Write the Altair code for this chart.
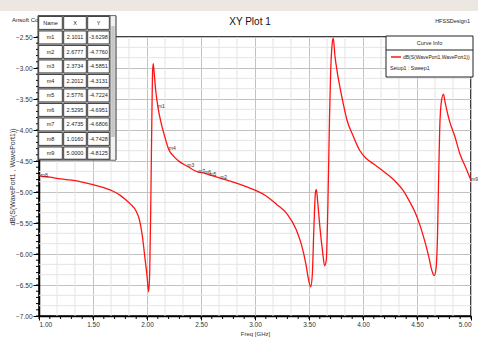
import altair as alt
import pandas as pd
import numpy as np

# ---------------- data ----------------
freq = [1.00, 1.016, 1.10, 1.20, 1.30, 1.40, 1.50, 1.60, 1.70, 1.75, 1.80, 1.85, 1.90, 1.93,
        1.96, 1.98, 2.00, 2.015, 2.025, 2.035, 2.045, 2.052, 2.058, 2.065, 2.08, 2.1011, 2.13,
        2.16, 2.2012, 2.25, 2.30, 2.3734, 2.4735, 2.5295, 2.5776, 2.6777, 2.80, 2.90, 3.00,
        3.10, 3.20, 3.30, 3.38, 3.43, 3.47, 3.50, 3.515, 3.53, 3.545, 3.56, 3.568, 3.58, 3.60,
        3.625, 3.645, 3.66, 3.675, 3.69, 3.70, 3.715, 3.725, 3.74, 3.76, 3.79, 3.82, 3.85,
        3.91, 3.97, 4.03, 4.10, 4.20, 4.30, 4.37, 4.43, 4.48, 4.53, 4.57, 4.61, 4.64, 4.66,
        4.675, 4.69, 4.70, 4.71, 4.725, 4.745, 4.76, 4.80, 4.85, 4.90, 4.95, 5.00]
db = [-4.72, -4.7428, -4.76, -4.79, -4.81, -4.84, -4.88, -4.93, -5.00, -5.05, -5.12, -5.20,
      -5.31, -5.45, -5.75, -6.05, -6.35, -6.61, -6.30, -5.20, -3.80, -3.05, -2.93, -3.05,
      -3.35, -3.6298, -3.88, -4.08, -4.3131, -4.43, -4.51, -4.5851, -4.6806, -4.6951, -4.7224,
      -4.7760, -4.84, -4.90, -4.97, -5.06, -5.20, -5.36, -5.60, -5.85, -6.15, -6.45, -6.53,
      -6.35, -5.60, -5.00, -4.96, -5.15, -5.55, -5.95, -6.19, -6.10, -5.20, -3.80, -3.10,
      -2.60, -2.52, -2.80, -3.05, -3.34, -3.60, -3.83, -4.10, -4.33, -4.46, -4.55, -4.68,
      -4.83, -4.97, -5.15, -5.32, -5.55, -5.78, -6.05, -6.28, -6.35, -6.25, -5.70, -4.80,
      -4.00, -3.55, -3.42, -3.55, -3.85, -4.10, -4.40, -4.60, -4.8125]

marker_names = ["m1", "m2", "m3", "m4", "m5", "m6", "m7", "m8", "m9"]
marker_x = [2.1011, 2.6777, 2.3734, 2.2012, 2.5776, 2.5295, 2.4735, 1.0160, 5.0000]
marker_y = [-3.6298, -4.7760, -4.5851, -4.3131, -4.7224, -4.6951, -4.6806, -4.7428, -4.8125]

x_ticks = [1.0, 1.5, 2.0, 2.5, 3.0, 3.5, 4.0, 4.5, 5.0]
y_ticks = [-7.0, -6.5, -6.0, -5.5, -5.0, -4.5, -4.0, -3.5, -3.0, -2.5]

title_text = "XY Plot 1"
design_text = "HFSSDesign1"
company_text = "Ansoft Corporation"
x_title = "Freq [GHz]"
y_title = "dB(S(WavePort1 , WavePort1))"
legend_title = "Curve Info"
legend_curve = "dB(S(WavePort1,WavePort1))"
legend_setup = "Setup1 : Sweep1"

# ---------------- layout ----------------
W, H = 432, 279
FONT = "Liberation Sans, Arial, sans-serif"
RED = "#ff1414"

xs = alt.Scale(domain=[1, 5], nice=False, zero=False)
ys = alt.Scale(domain=[-7, -2.5], nice=False, zero=False)

xaxis = alt.Axis(
    values=x_ticks, format=".2f", title=x_title, grid=True, gridColor="#c2c2c2",
    gridWidth=1, tickSize=4, tickColor="black", domainColor="black", domainWidth=1.5,
    labelFont=FONT, labelFontSize=6.5, labelColor="#333", labelPadding=1,
    titleFont=FONT, titleFontSize=6, titleFontWeight="normal", titleColor="#333",
    titleY=17, titleBaseline="middle")
yaxis = alt.Axis(
    values=y_ticks, format=".2f", title=y_title, grid=True, gridColor="#c2c2c2",
    gridWidth=1, tickSize=6, tickColor="black", domainColor="black", domainWidth=1.5,
    labelFont=FONT, labelFontSize=6.5, labelColor="#333", labelPadding=1,
    titleFont=FONT, titleFontSize=7, titleFontWeight="normal", titleColor="#333",
    titleX=-27, titleY=H / 2, titleBaseline="middle")

X = alt.X("f:Q", scale=xs, axis=xaxis)
Y = alt.Y("db:Q", scale=ys, axis=yaxis)

curve_df = pd.DataFrame({"f": freq, "db": db})
mk_df = pd.DataFrame({"name": marker_names, "f": marker_x, "db": marker_y})

gx = np.linspace(1, 5, 25)
gy = np.linspace(-7, -2.5, 28)
minor_gx = pd.DataFrame({"f": np.round([v for i, v in enumerate(gx) if i % 3], 5)})
minor_gy = pd.DataFrame({"db": np.round([v for i, v in enumerate(gy) if i % 3], 5)})
tick_x = pd.DataFrame({"f": np.round(np.linspace(1, 5, 41), 5)})
tick_y = pd.DataFrame({"db": np.round(np.linspace(-7, -2.5, 46), 5)})

grid_v = alt.Chart(minor_gx).mark_rule(color="#e4e4e4", strokeWidth=1).encode(x=X)
grid_h = alt.Chart(minor_gy).mark_rule(color="#e4e4e4", strokeWidth=1).encode(y=Y)

curve = alt.Chart(curve_df).mark_line(
    color=RED, strokeWidth=1.3, interpolate="monotone").encode(x=X, y=Y)

minor_tx = alt.Chart(tick_x).mark_rule(color="black", strokeWidth=1).encode(
    x=X, y=alt.value(H), y2=alt.value(H + 3))
minor_ty = alt.Chart(tick_y).mark_rule(color="black", strokeWidth=1).encode(
    y=Y, x=alt.value(-3), x2=alt.value(0))

mk_labels = alt.Chart(mk_df).mark_text(
    font=FONT, fontSize=5, color="#333", align="left", baseline="bottom", dy=2).encode(
    x=X, y=Y, text="name:N")

# ---------------- page decorations ----------------
band = alt.Chart(pd.DataFrame({"a": [0]})).mark_rect(color="#ece8e1").encode(
    x=alt.value(-39), x2=alt.value(W + 7), y=alt.value(-37), y2=alt.value(-26))


def txt(s, x, y, size=7, align="left", color="#222"):
    return alt.Chart(pd.DataFrame({"t": [s]})).mark_text(
        font=FONT, fontSize=size, align=align, baseline="middle", color=color).encode(
        x=alt.value(x), y=alt.value(y), text="t:N")


title = txt(title_text, 211, -15, size=10, align="center", color="#111")
design = txt(design_text, 431, -16, size=5.5, align="right")
company = txt(company_text, -27, -17, size=6)

# ---------------- marker table ----------------
col_edges = [(-1, 24), (24, 48), (48, 71)]
row_top0, row_h, tbl_bottom = -21.3, 14.5, 123
rows = [["Name", "X", "Y"]] + [[n, f"{a:.4f}", f"{b:.4f}"]
                               for n, a, b in zip(marker_names, marker_x, marker_y)]
cells = []
for r, row in enumerate(rows):
    top = row_top0 + r * row_h
    bot = min(top + row_h, tbl_bottom)
    for c, val in enumerate(row):
        x0, x1 = col_edges[c]
        cells.append({"x0": x0 + 0.7, "x1": x1 - 0.7, "y0": top + 0.8, "y1": bot - 0.8,
                      "xc": (x0 + x1) / 2, "yc": top + row_h / 2, "t": val})
cells_df = pd.DataFrame(cells)

frame = alt.Chart(pd.DataFrame({"a": [0]})).mark_rect(
    fill="#b8b8b8", stroke="#333", strokeWidth=1).encode(
    x=alt.value(-1), x2=alt.value(77), y=alt.value(row_top0), y2=alt.value(tbl_bottom))
cell_rects = alt.Chart(cells_df).mark_rect(fill="white", stroke="#222", strokeWidth=0.8).encode(
    x=alt.X("x0:Q", scale=None), x2="x1:Q",
    y=alt.Y("y0:Q", scale=None), y2="y1:Q")
cell_text = alt.Chart(cells_df).mark_text(
    font=FONT, fontSize=5.5, color="#222", align="center", baseline="middle").encode(
    x=alt.X("xc:Q", scale=None), y=alt.Y("yc:Q", scale=None), text="t:N")
scroll = alt.Chart(pd.DataFrame({"a": [0]})).mark_rect(
    fill="#f2f2f2", stroke="#777", strokeWidth=0.6).encode(
    x=alt.value(71.5), x2=alt.value(76.5), y=alt.value(row_top0), y2=alt.value(tbl_bottom))
thumb = alt.Chart(pd.DataFrame({"a": [0]})).mark_rect(fill="#c6c6c6").encode(
    x=alt.value(72.2), x2=alt.value(75.8), y=alt.value(-11), y2=alt.value(100))

# ---------------- curve info box ----------------
lg_box = alt.Chart(pd.DataFrame({"a": [0]})).mark_rect(
    fill="white", stroke="#222", strokeWidth=1).encode(
    x=alt.value(347), x2=alt.value(434), y=alt.value(-1), y2=alt.value(40))
lg_sep = alt.Chart(pd.DataFrame({"a": [0]})).mark_rule(color="#222", strokeWidth=1).encode(
    x=alt.value(347), x2=alt.value(434), y=alt.value(13))
lg_line = alt.Chart(pd.DataFrame({"a": [0]})).mark_rule(color=RED, strokeWidth=1.5).encode(
    x=alt.value(352), x2=alt.value(362), y=alt.value(20))
lg_title = txt(legend_title, 390.5, 6, size=5.5, align="center")
lg_curve = txt(legend_curve, 364, 20, size=5)
lg_setup = txt(legend_setup, 351, 31, size=5.2)

chart = alt.layer(
    band, grid_v, grid_h, curve, minor_tx, minor_ty, mk_labels,
    title, design, company,
    frame, cell_rects, cell_text, scroll, thumb,
    lg_box, lg_sep, lg_line, lg_title, lg_curve, lg_setup,
).properties(
    width=W, height=H,
    autosize=alt.AutoSizeParams(type="none"),
    padding={"left": 39, "top": 37, "right": 7, "bottom": 21},
    background="white",
).configure_view(stroke="black", strokeWidth=1.5)

chart.save("out.html", embed_options={"renderer": "svg", "actions": False})
